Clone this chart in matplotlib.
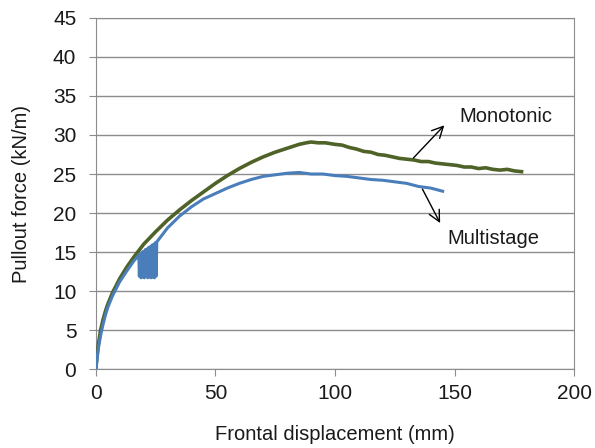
import matplotlib.pyplot as plt

plt.rcParams['font.family'] = ['Liberation Sans', 'DejaVu Sans']

# Monotonic test
mono_x = [0, 0.5, 1, 2, 3, 4, 5, 7, 10, 13, 16, 20, 25, 30, 35, 40, 45, 50, 55, 60, 65,
          70, 75, 80, 85, 88, 90, 93, 96, 100, 103, 106, 109, 112, 115, 118, 121, 124,
          127, 130, 133, 136, 139, 142, 145, 148, 151, 154, 157, 160, 163, 166, 169,
          172, 175, 178]
mono_y = [0, 1.5, 3, 5, 6.3, 7.4, 8.3, 9.8, 11.6, 13.1, 14.4, 16.0, 17.6, 19.1, 20.4,
          21.6, 22.7, 23.8, 24.8, 25.7, 26.5, 27.2, 27.8, 28.3, 28.8, 29.0, 29.1,
          29.0, 29.0, 28.8, 28.7, 28.4, 28.2, 27.9, 27.8, 27.5, 27.4, 27.2,
          27.0, 26.9, 26.8, 26.6, 26.6, 26.4, 26.3, 26.2, 26.1, 25.9, 25.9, 25.7,
          25.8, 25.6, 25.5, 25.6, 25.4, 25.3]

# Multistage test (with unload/reload loops between ~18 and 25.5 mm)
multi_x = [0, 0.5, 1, 2, 3, 4, 5, 7, 10, 13, 16, 18,
           18.2, 18.6, 18.9, 19.3, 19.6, 20.0, 20.3, 20.7, 21.0, 21.4, 21.7, 22.1,
           22.4, 22.8, 23.1, 23.5, 23.8, 24.2, 24.5, 24.9, 25.2, 25.5,
           27, 30, 35, 40, 45, 50, 55, 60, 65, 70, 75, 80, 85, 90, 95, 100, 105,
           110, 115, 120, 125, 130, 135, 140, 145]
multi_y = [0, 1.2, 2.5, 4.3, 5.7, 6.9, 7.9, 9.4, 11.2, 12.6, 13.9, 14.6,
           11.9, 14.8, 11.7, 15.0, 11.8, 15.1, 11.7, 15.3, 11.9, 15.4, 11.7, 15.6,
           11.8, 15.7, 11.7, 15.9, 11.8, 16.0, 11.7, 16.2, 11.9, 16.3,
           16.9, 18.1, 19.6, 20.8, 21.8, 22.5, 23.2, 23.8, 24.3, 24.7, 24.9, 25.1,
           25.2, 25.0, 25.0, 24.8, 24.7, 24.5, 24.3, 24.2, 24.0, 23.8, 23.4, 23.2, 22.8]

fig = plt.figure(figsize=(5.95, 4.48), dpi=100)
ax = fig.add_axes([0.161, 0.176, 0.804, 0.784])

ax.plot(mono_x, mono_y, color='#4F6228', lw=2.6, zorder=3)
ax.plot(multi_x, multi_y, color='#4A7EBB', lw=2.2, zorder=4)

ax.set_xlim(0, 200)
ax.set_ylim(0, 45)
ax.set_xticks(range(0, 201, 50))
ax.set_yticks(range(0, 46, 5))
ax.grid(axis='y', color='#8C8C8C', lw=1)
ax.set_axisbelow(True)
for s in ax.spines.values():
    s.set_color('#8C8C8C')
ax.tick_params(colors='#8C8C8C', labelcolor='#1a1a1a', labelsize=15, length=5)
ax.tick_params(axis='x', pad=6)
ax.tick_params(axis='y', pad=9)

ax.set_xlabel('Frontal displacement (mm)', fontsize=14.5, color='#1a1a1a')
ax.set_ylabel('Pullout force (kN/m)', fontsize=14.5, color='#1a1a1a')
ax.xaxis.set_label_coords(0.5, -0.16)
ax.yaxis.set_label_coords(-0.136, 0.5)

ax.annotate('', xy=(146.5, 31.5), xytext=(132, 26.8),
            arrowprops=dict(arrowstyle='->', color='black', lw=1, mutation_scale=20))
ax.text(152, 32.4, 'Monotonic', fontsize=14.5, va='center', color='#1a1a1a')
ax.annotate('', xy=(144.5, 18.4), xytext=(136, 23.4),
            arrowprops=dict(arrowstyle='->', color='black', lw=1, mutation_scale=20))
ax.text(147, 16.8, 'Multistage', fontsize=14.5, va='center', color='#1a1a1a')

fig.savefig('out.png')
